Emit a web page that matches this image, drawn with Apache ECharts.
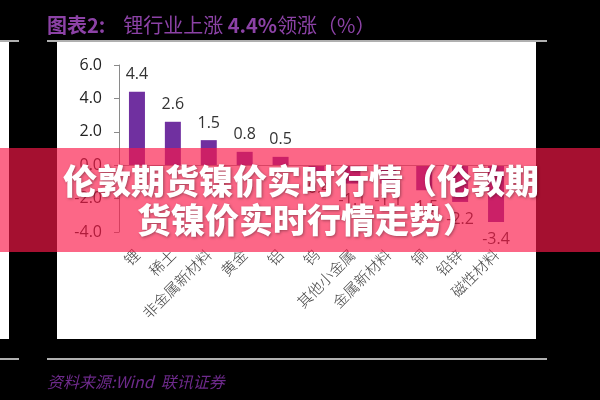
<!DOCTYPE html>
<html><head><meta charset="utf-8">
<style>html,body{margin:0;padding:0;background:#000;}#c{width:600px;height:400px;}</style>
<script src="https://cdn.jsdelivr.net/npm/echarts@6/dist/echarts.min.js"></script>
</head><body><div id="c"></div>
<script>
const titleText = ['图表2:', '    锂行业上涨 ', '4.4%', '领涨（%）'];
const sourceText = '资料来源:Wind  联讯证券';
const bannerLines = ['伦敦期货镍价实时行情（伦敦期', '货镍价实时行情走势）'];
const categories = ['锂','稀土','非金属新材料','黄金','铝','钨','其他小金属','金属新材料','铜','铅锌','磁性材料'];
const values = [4.4, 2.6, 1.5, 0.8, 0.5, -0.4, -1.1, -1.1, -1.5, -2.2, -3.4];
const yMin = -4, yMax = 6, yStep = 2;

const chart = echarts.init(document.getElementById('c'));
const barData = values.map(v => ({
  value: v,
  label: { position: v >= 0 ? 'top' : 'bottom' }
}));
const purple = '#7030a0';
chart.setOption({
  backgroundColor: '#000',
  animation: false,
  grid: { left: 119, right: 86, top: 65, bottom: 168 },
  xAxis: {
    type: 'category', data: categories,
    axisLine: { show: false, onZero: false },
    axisTick: { show: false },
    axisLabel: { rotate: 45, interval: 0, margin: 20, fontSize: 15, color: '#444',
      fontFamily: 'Noto Sans CJK SC', fontWeight: 300 }
  },
  yAxis: {
    type: 'value', min: yMin, max: yMax, interval: yStep,
    axisLine: { show: true, lineStyle: { color: '#8a8a8a', width: 1 } },
    axisTick: { show: true, length: 5, lineStyle: { color: '#8a8a8a' } },
    splitLine: { show: false },
    axisLabel: { margin: 17, fontSize: 16, color: '#222', fontFamily: 'Open Sans',
      formatter: v => v.toFixed(1) }
  },
  series: [{
    type: 'bar', data: barData, barWidth: 16,
    itemStyle: { color: purple },
    label: { show: true, distance: 9, fontSize: 16, color: '#333', fontFamily: 'Open Sans',
      formatter: p => p.value.toFixed(1) },
    markLine: { silent: true, symbol: 'none', label: { show: false },
      lineStyle: { color: '#999', type: 'solid', width: 1 },
      data: [{ yAxis: 0 }] }
  }],
  graphic: [
    { type: 'rect', z: -10, shape: { x: 57, y: 41, width: 479, height: 298 }, style: { fill: '#fff' } },
    { type: 'rect', z: -10, shape: { x: 0, y: 41, width: 9, height: 298 }, style: { fill: '#fff' } },
    { type: 'rect', z: -5, shape: { x: 0, y: 40, width: 19, height: 2 }, style: { fill: '#b0b0b0' } },
    { type: 'rect', z: -5, shape: { x: 47, y: 40, width: 500, height: 2 }, style: { fill: '#b0b0b0' } },
    { type: 'rect', z: -5, shape: { x: 0, y: 358, width: 19, height: 2 }, style: { fill: '#b0b0b0' } },
    { type: 'rect', z: -5, shape: { x: 47, y: 358, width: 500, height: 2 }, style: { fill: '#b0b0b0' } },
    { type: 'text', z: 5, x: 47, y: 25, style: {
      text: '{b|' + titleText[0] + '}{n|' + titleText[1] + '}{b|' + titleText[2] + '}{n|' + titleText[3] + '}',
      verticalAlign: 'middle', fill: '#8a3fa3',
      rich: {
        b: { fontSize: 20, fontWeight: 'bold', fill: '#8c42a6', fontFamily: 'Noto Sans CJK SC' },
        n: { fontSize: 20, fill: '#8c42a6', fontFamily: 'Noto Sans CJK SC' }
      } } },
    { type: 'text', z: 5, x: 47, y: 382, style: {
      text: sourceText, fontSize: 16, fontStyle: 'italic', fill: '#6e2a8c',
      fontFamily: 'Noto Sans CJK SC', verticalAlign: 'middle' } },
    { type: 'rect', z: 100, shape: { x: 0, y: 148, width: 600, height: 104 },
      style: { fill: 'rgba(250,24,73,0.66)' } },
    { type: 'text', z: 101, x: 301, y: 181, style: {
      text: bannerLines[0], fontSize: 34, fontWeight: 900, fill: '#fff',
      fontFamily: 'Noto Sans CJK SC', align: 'center', verticalAlign: 'middle',
      textShadowColor: 'rgba(0,0,0,0.35)', textShadowBlur: 3, textShadowOffsetX: 1, textShadowOffsetY: 1 } },
    { type: 'text', z: 101, x: 307, y: 220, style: {
      text: bannerLines[1], fontSize: 34, fontWeight: 900, fill: '#fff',
      fontFamily: 'Noto Sans CJK SC', align: 'center', verticalAlign: 'middle',
      textShadowColor: 'rgba(0,0,0,0.35)', textShadowBlur: 3, textShadowOffsetX: 1, textShadowOffsetY: 1 } }
  ]
});
</script></body></html>
